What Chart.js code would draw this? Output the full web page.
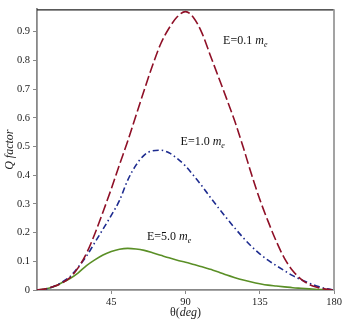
<!DOCTYPE html>
<html>
<head>
<meta charset="utf-8">
<script src="https://cdn.jsdelivr.net/npm/chart.js@4/dist/chart.umd.min.js"></script>
<style>
html,body{margin:0;padding:0;background:#fff;}
#wrap{width:347px;height:325px;}
</style>
</head>
<body>
<div id="wrap"><canvas id="c" width="347" height="325"></canvas></div>
<script>
const thetas = [0,5,10,15,20,25,30,35,40,45,50,55,60,65,70,75,80,85,90,95,100,105,110,115,120,125,130,135,140,145,150,155,160,165,170,175,180];
const qE01 = [0,0.004,0.012,0.024,0.043,0.078,0.128,0.195,0.272,0.352,0.437,0.519,0.608,0.697,0.782,0.858,0.912,0.952,0.970,0.948,0.895,0.818,0.742,0.665,0.586,0.497,0.403,0.316,0.240,0.170,0.110,0.067,0.038,0.019,0.009,0.003,0];
const qE10 = [0,0.003,0.012,0.027,0.047,0.080,0.118,0.165,0.212,0.260,0.312,0.383,0.435,0.470,0.485,0.487,0.478,0.458,0.432,0.398,0.362,0.323,0.286,0.250,0.215,0.182,0.152,0.126,0.104,0.085,0.067,0.050,0.036,0.024,0.013,0.005,0];
const qE50 = [0,0.003,0.011,0.025,0.040,0.060,0.085,0.105,0.122,0.134,0.142,0.145,0.143,0.138,0.130,0.121,0.112,0.104,0.097,0.089,0.081,0.072,0.063,0.052,0.043,0.035,0.028,0.022,0.017,0.014,0.011,0.008,0.006,0.004,0.002,0.001,0];
const xTicks = [45,90,135,180];
const yTicks = [0,0.1,0.2,0.3,0.4,0.5,0.6,0.7,0.8,0.9];
const labels = [
  {text:'E=0.1 ', sub:'e', x:112.8, y:0.868},
  {text:'E=1.0 ', sub:'e', x:87.0, y:0.515},
  {text:'E=5.0 ', sub:'e', x:66.6, y:0.184}
];

const SERIF = '"Liberation Serif", "Times New Roman", Times, serif';
const pts = arr => thetas.map((t,i)=>({x:t,y:arr[i]}));

const textPlugin = {
  id:'texts',
  afterDraw(chart){
    const ctx = chart.ctx, a = chart.chartArea;
    const xs = chart.scales.x, ys = chart.scales.y;
    ctx.save();
    ctx.strokeStyle = '#222'; ctx.lineWidth = 1.2;
    ctx.beginPath(); ctx.moveTo(a.left, a.top+0.5); ctx.lineTo(a.right, a.top+0.5); ctx.stroke();
    ctx.strokeStyle = '#999'; ctx.lineWidth = 1.8;
    ctx.beginPath(); ctx.moveTo(a.right, a.top); ctx.lineTo(a.right, a.bottom); ctx.stroke();
    ctx.fillStyle = '#111';
    ctx.textBaseline = 'middle';
    labels.forEach(l=>{
      let px = xs.getPixelForValue(l.x), py = ys.getPixelForValue(l.y);
      ctx.font = '12px ' + SERIF; ctx.textAlign='left';
      ctx.fillText(l.text, px, py);
      px += ctx.measureText(l.text).width;
      ctx.font = 'italic 12px ' + SERIF;
      ctx.fillText('m', px, py);
      px += ctx.measureText('m').width;
      ctx.font = 'italic 8px ' + SERIF;
      ctx.fillText(l.sub, px, py+4);
    });
    const cx = xs.getPixelForValue(90), ty = 313;
    const parts = [['θ(', '12px '],['deg','italic 12px '],[')','12px ']];
    let tw = 0;
    parts.forEach(p=>{ctx.font = p[1]+SERIF; tw += ctx.measureText(p[0]).width;});
    let sx = cx - tw/2;
    ctx.fillStyle = '#222';
    parts.forEach(p=>{ctx.font = p[1]+SERIF; ctx.fillText(p[0], sx, ty); sx += ctx.measureText(p[0]).width;});
    ctx.translate(10, (a.top+a.bottom)/2);
    ctx.rotate(-Math.PI/2);
    ctx.textAlign = 'center';
    ctx.font = 'italic 12px ' + SERIF;
    ctx.fillText('Q factor', 0, 0);
    ctx.restore();
  }
};

new Chart(document.getElementById('c'), {
  type:'line',
  data:{
    datasets:[
      {label:'E=0.1', data:pts(qE01), borderColor:'#8f1027', borderWidth:1.6, borderDash:[10,3.5], pointRadius:0, cubicInterpolationMode:'monotone', fill:false},
      {label:'E=1.0', data:pts(qE10), borderColor:'#1d2b8f', borderWidth:1.6, borderDash:[6,3,1.5,3], pointRadius:0, cubicInterpolationMode:'monotone', fill:false},
      {label:'E=5.0', data:pts(qE50), borderColor:'#5a8f26', borderWidth:1.6, pointRadius:0, cubicInterpolationMode:'monotone', fill:false}
    ]
  },
  options:{
    responsive:false,
    animation:false,
    layout:{padding:{top:5,right:13,left:0,bottom:0}},
    plugins:{legend:{display:false}, tooltip:{enabled:false}},
    scales:{
      x:{
        type:'linear', min:0, max:180,
        afterBuildTicks(s){ s.ticks = xTicks.map(v=>({value:v})); },
        afterFit(s){ s.height = 35; },
        ticks:{font:{family:SERIF,size:10.5}, color:'#222', padding:2, maxRotation:0, autoSkip:false},
        grid:{drawOnChartArea:false, tickLength:4, color:'#888'},
        border:{color:'#888', width:1.8}
      },
      y:{
        type:'linear', min:0, max:0.978,
        afterBuildTicks(s){ s.ticks = yTicks.map(v=>({value:v})); },
        afterFit(s){ s.width = 37; },
        ticks:{font:{family:SERIF,size:10.5}, color:'#222', padding:3, callback:v=> v===0 ? '0' : v.toFixed(1), autoSkip:false},
        grid:{drawOnChartArea:false, tickLength:4, color:'#888'},
        border:{color:'#888', width:1.8}
      }
    }
  },
  plugins:[textPlugin]
});
</script>
</body>
</html>
